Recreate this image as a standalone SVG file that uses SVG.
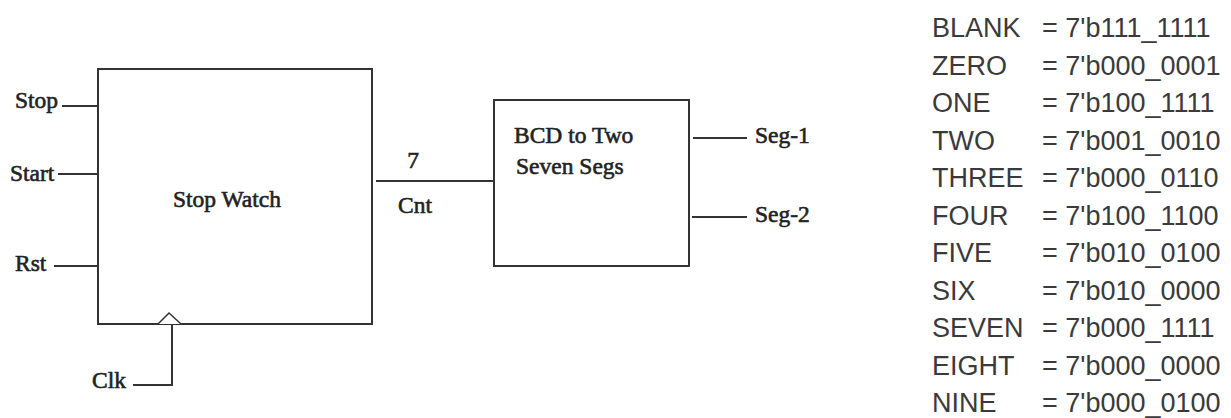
<svg xmlns="http://www.w3.org/2000/svg" width="1231" height="418" viewBox="0 0 1231 418">
  <style>
    .box { fill: #ffffff; stroke: #333333; stroke-width: 2; }
    .wire { fill: none; stroke: #333333; stroke-width: 2; }
    .clk { fill: #ffffff; stroke: #333333; stroke-width: 1.5; }
    .lbl { font-family: "Liberation Serif", "Times New Roman", serif; font-size: 23.5px; fill: #222222; stroke: #222222; stroke-width: 0.6; }
    .tbl { font-family: "Liberation Sans", Arial, sans-serif; font-size: 27px; fill: #3a3a3a; }
  </style>
  <rect width="1231" height="418" fill="#ffffff"/>

  <!-- Stop watch block with its inputs -->
  <g id="stop-watch">
    <rect class="box" x="98" y="69" width="274" height="255"/>
    <text class="lbl" x="227" y="207" text-anchor="middle">Stop Watch</text>
    <polyline class="clk" points="158,324 169,313 181,324"/>
  </g>

  <g id="in-stop">
    <text class="lbl" x="15" y="108">Stop</text>
  </g>
  <g id="in-start">
    <text class="lbl" x="10" y="181">Start</text>
  </g>
  <g id="in-rst">
    <text class="lbl" x="15" y="271">Rst</text>
  </g>
  <g id="in-clk">
    <text class="lbl" x="92" y="388">Clk</text>
  </g>

  <!-- BCD to seven segment converter -->
  <g id="bcd-decoder">
    <rect class="box" x="494" y="100" width="195" height="166"/>
    <text class="lbl" x="514" y="143">BCD to Two</text>
    <text class="lbl" x="516" y="174">Seven Segs</text>
  </g>

  <g id="out-seg1">
    <text class="lbl" x="755" y="143">Seg-1</text>
  </g>
  <g id="out-seg2">
    <text class="lbl" x="755" y="222">Seg-2</text>
  </g>

  <!-- Wires -->
  <g id="connectors">
    <line class="wire" x1="62" y1="106" x2="98" y2="106"/>
    <line class="wire" x1="58" y1="174" x2="98" y2="174"/>
    <line class="wire" x1="54" y1="266" x2="98" y2="266"/>
    <polyline class="wire" points="133,385 172,385 172,324"/>
    <line class="wire" x1="376" y1="181" x2="494" y2="181"/>
    <line class="wire" x1="693" y1="138" x2="747" y2="138"/>
    <line class="wire" x1="692" y1="217" x2="747" y2="217"/>
    <text class="lbl" x="413" y="168" text-anchor="middle">7</text>
    <text class="lbl" x="398" y="213">Cnt</text>
  </g>

  <!-- Seven segment code table -->
  <g id="code-table" class="tbl">
    <text x="932" y="37">BLANK</text><text x="1042" y="37">= 7'b111_1111</text>
    <text x="932" y="74.5">ZERO</text><text x="1042" y="74.5">= 7'b000_0001</text>
    <text x="932" y="112">ONE</text><text x="1042" y="112">= 7'b100_1111</text>
    <text x="932" y="149.5">TWO</text><text x="1042" y="149.5">= 7'b001_0010</text>
    <text x="932" y="187">THREE</text><text x="1042" y="187">= 7'b000_0110</text>
    <text x="932" y="224.5">FOUR</text><text x="1042" y="224.5">= 7'b100_1100</text>
    <text x="932" y="262">FIVE</text><text x="1042" y="262">= 7'b010_0100</text>
    <text x="932" y="299.5">SIX</text><text x="1042" y="299.5">= 7'b010_0000</text>
    <text x="932" y="337">SEVEN</text><text x="1042" y="337">= 7'b000_1111</text>
    <text x="932" y="374.5">EIGHT</text><text x="1042" y="374.5">= 7'b000_0000</text>
    <text x="932" y="412">NINE</text><text x="1042" y="412">= 7'b000_0100</text>
  </g>
</svg>
